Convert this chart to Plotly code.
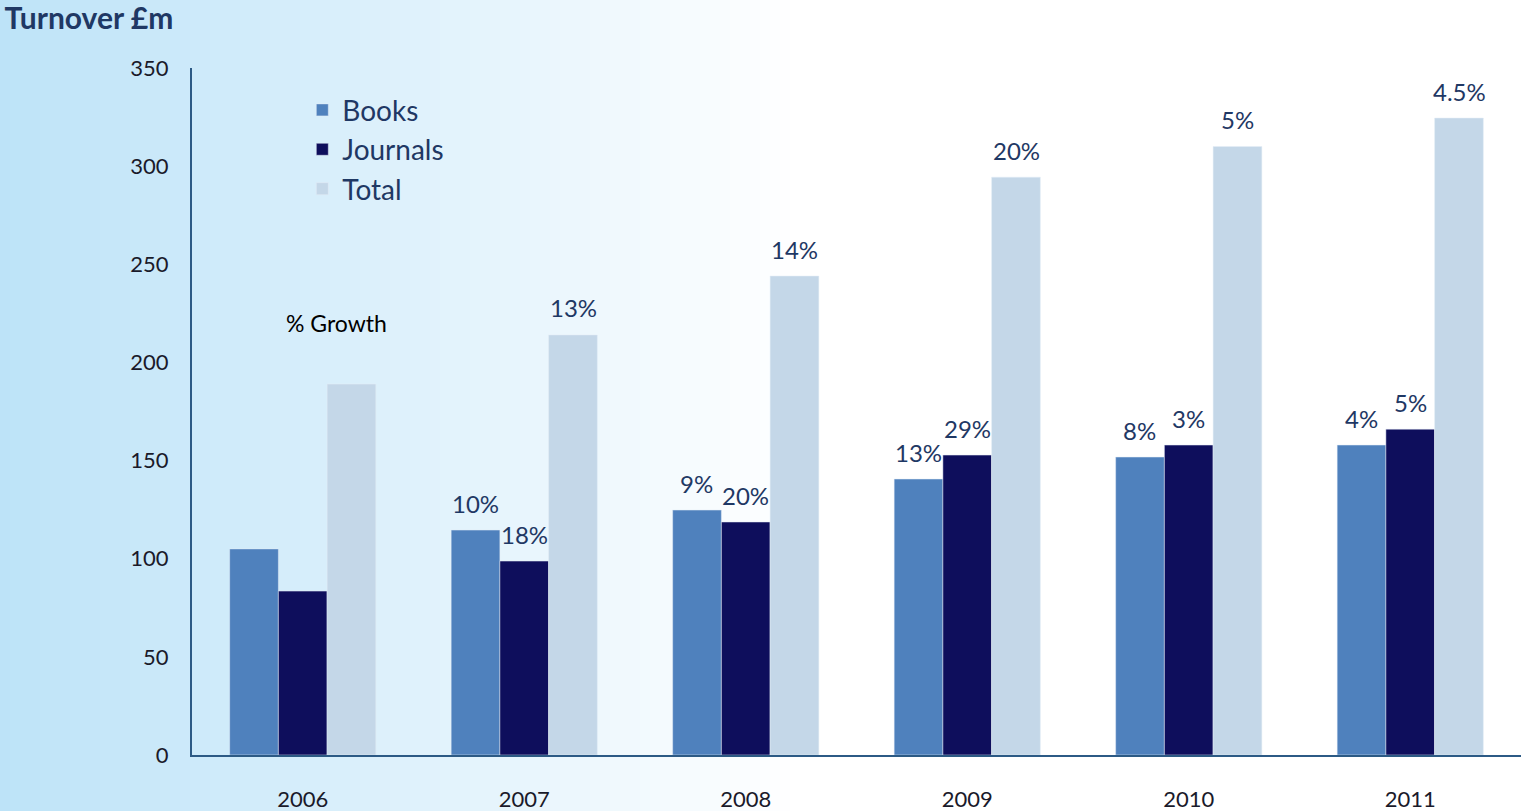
import plotly.graph_objects as go

years = ["2006", "2007", "2008", "2009", "2010", "2011"]
books = [105, 114.6, 124.8, 140.6, 151.8, 157.9]
journals = [83.5, 98.8, 118.7, 152.8, 157.9, 166]
total = [189, 214, 244, 294.4, 310, 324.5]
books_growth = ["", "10%", "9%", "13%", "8%", "4%"]
journals_growth = ["", "18%", "20%", "29%", "3%", "5%"]
total_growth = ["", "13%", "14%", "20%", "5%", "4.5%"]

FONT = "Lato"
NAVY = "#1f3864"

fig = go.Figure()
fig.add_trace(go.Bar(name="Books", x=years, y=books, marker_color="#4f81bd"))
fig.add_trace(go.Bar(name="Journals", x=years, y=journals, marker_color="#0e0e5c"))
fig.add_trace(go.Bar(name="Total", x=years, y=total, marker_color="#c4d7e8"))

# background gradient strips (paper coords)
L, R, W = 192, 0, 1521
PW = W - L - R
shapes = []
N = 80
end_px = 800
c0 = (189, 227, 248)
for i in range(N):
    x0 = i * end_px / N
    x1 = (i + 1) * end_px / N + 1
    t = (i + 0.5) / N
    c = tuple(int(round(a + (255 - a) * t)) for a in c0)
    shapes.append(dict(type="rect", xref="paper", yref="paper", layer="below",
                       x0=(x0 - L) / PW, x1=(x1 - L) / PW, y0=-0.2, y1=1.2,
                       fillcolor="rgb(%d,%d,%d)" % c, line=dict(width=0)))

# growth labels: category axis positions are indexes
annotations = []
for series, vals, shift in ((books_growth, books, -49), (journals_growth, journals, 0), (total_growth, total, 49)):
    for idx, (v, lab) in enumerate(zip(vals, series)):
        if lab:
            annotations.append(dict(x=idx, y=v, xref="x", yref="y", text=lab, showarrow=False,
                                    xshift=shift, yshift=27, yanchor="middle",
                                    font=dict(family=FONT, size=24, color=NAVY)))
annotations.append(dict(x=0, y=220, xref="x", yref="y", text="% Growth", showarrow=False, xshift=34,
                        yanchor="middle", font=dict(family=FONT, size=23, color="#000000")))

fig.update_layout(
    width=1521, height=811,
    margin=dict(l=L, r=R, t=68, b=56),
    paper_bgcolor="white", plot_bgcolor="rgba(0,0,0,0)",
    barmode="group", bargap=0.34, bargroupgap=0,
    shapes=shapes, annotations=annotations,
    title=dict(text="<b>Turnover £m</b>", x=0.003, xanchor="left", y=0.977, yanchor="middle",
               font=dict(family=FONT, size=30, color=NAVY)),
    legend=dict(x=0.083, y=0.975, xanchor="left", yanchor="top", bgcolor="rgba(0,0,0,0)",
                font=dict(family=FONT, size=28, color=NAVY)),
    xaxis=dict(type="category", range=[-0.5, 5.5], showline=True, linecolor="#2c5a85", linewidth=2,
               showgrid=False, ticks="outside", ticklen=24, tickcolor="rgba(0,0,0,0)",
               tickfont=dict(family=FONT, size=22, color="#1a1a2a")),
    yaxis=dict(range=[0, 350], dtick=50, showline=True, linecolor="#2c5a85", linewidth=2,
               showgrid=False, zeroline=False, ticks="outside", ticklen=17, tickcolor="rgba(0,0,0,0)",
               tickfont=dict(family=FONT, size=22, color="#1a1a2a")),
    font=dict(family=FONT),
)

fig.write_html("out.html")
